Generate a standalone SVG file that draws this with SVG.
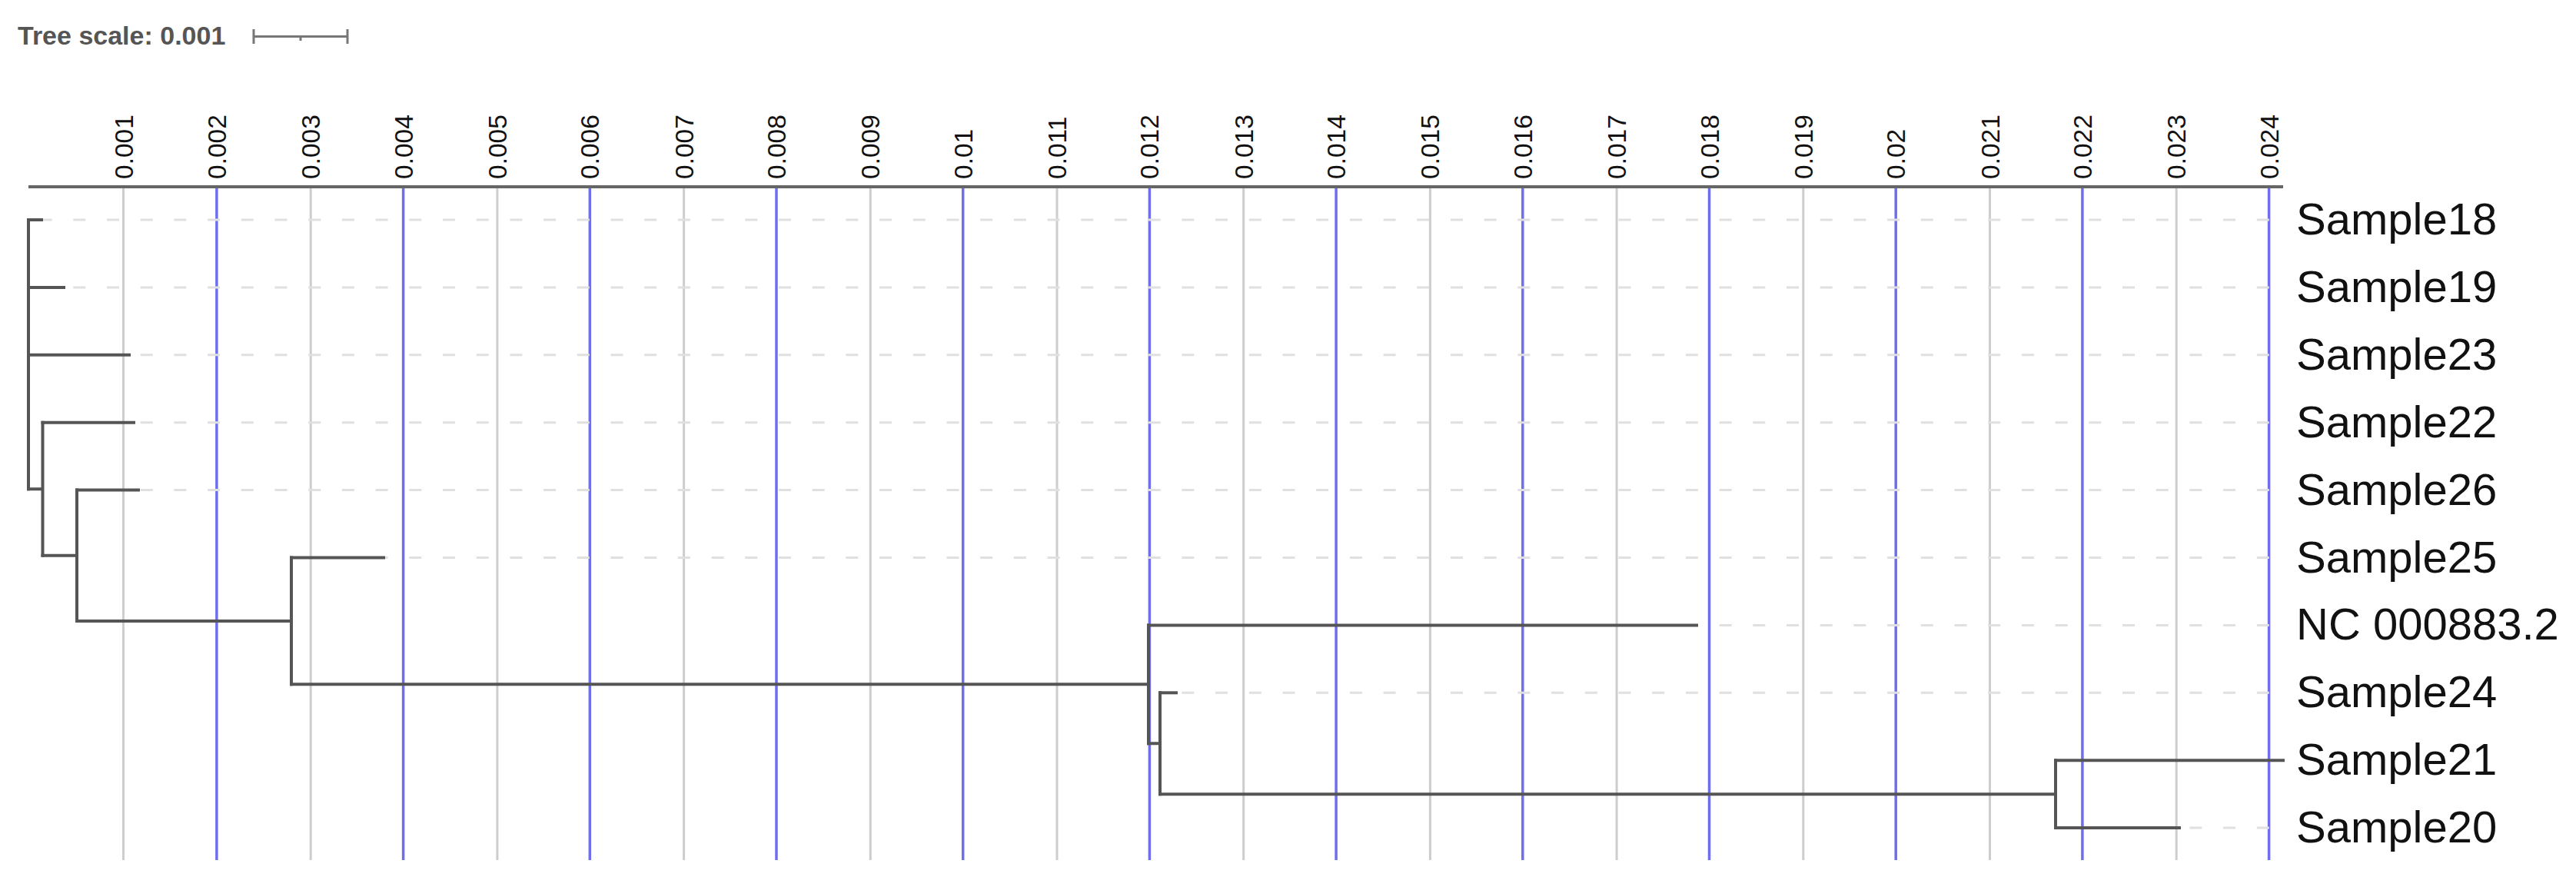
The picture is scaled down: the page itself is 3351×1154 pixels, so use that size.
<svg xmlns="http://www.w3.org/2000/svg" width="3351" height="1154" viewBox="0 0 3351 1154">
<style>
.bg{fill:#ffffff}
.g-odd{stroke:#cdcdcd;stroke-width:3;fill:none}
.g-even{stroke:#6f6fee;stroke-width:3.5;fill:none}
.axis{stroke:#666666;stroke-width:4;fill:none}
.tick{font-family:"Liberation Sans",Arial,sans-serif;font-size:33.5px;fill:#111111}
.guide{stroke:#e0e0e0;stroke-width:3;stroke-dasharray:16 27.7;fill:none}
.br{stroke:#555555;stroke-width:4;fill:none;stroke-linecap:square}
.lbl{font-family:"Liberation Sans",Arial,sans-serif;font-size:58px;fill:#111111}
.ts{font-family:"Liberation Sans",Arial,sans-serif;font-size:34px;font-weight:bold;fill:#555555}
.sb{stroke:#777777;stroke-width:3;fill:none}
</style>
<rect class="bg" x="0" y="0" width="3351" height="1154"/>

<g id="tree-scale">
<text class="ts" x="23" y="58">Tree scale: 0.001</text>
<path class="sb" d="M330,47.5 H452 M330,38 V57 M452,38 V57 M391,47 V53"/>
</g>

<g id="grid">
<path class="g-odd" d="M160.5,243 V1119 M404.2,243 V1119 M646.9,243 V1119 M889.6,243 V1119 M1132.3,243 V1119 M1375,243 V1119 M1617.7,243 V1119 M1860.4,243 V1119 M2103.1,243 V1119 M2345.8,243 V1119 M2588.5,243 V1119 M2831.2,243 V1119"/>
<path class="g-even" d="M281.9,243 V1119 M524.6,243 V1119 M767.3,243 V1119 M1010,243 V1119 M1252.7,243 V1119 M1495.4,243 V1119 M1738.1,243 V1119 M1980.8,243 V1119 M2223.5,243 V1119 M2466.2,243 V1119 M2708.9,243 V1119 M2951.6,243 V1119"/>
</g>

<g id="axis">
<line class="axis" x1="37" y1="243" x2="2970" y2="243"/>
<text class="tick" transform="translate(172.5,233) rotate(-90)">0.001</text>
<text class="tick" transform="translate(293.9,233) rotate(-90)">0.002</text>
<text class="tick" transform="translate(416.2,233) rotate(-90)">0.003</text>
<text class="tick" transform="translate(536.6,233) rotate(-90)">0.004</text>
<text class="tick" transform="translate(658.9,233) rotate(-90)">0.005</text>
<text class="tick" transform="translate(779.3,233) rotate(-90)">0.006</text>
<text class="tick" transform="translate(901.6,233) rotate(-90)">0.007</text>
<text class="tick" transform="translate(1022,233) rotate(-90)">0.008</text>
<text class="tick" transform="translate(1144.3,233) rotate(-90)">0.009</text>
<text class="tick" transform="translate(1264.7,233) rotate(-90)">0.01</text>
<text class="tick" transform="translate(1387,233) rotate(-90)">0.011</text>
<text class="tick" transform="translate(1507.4,233) rotate(-90)">0.012</text>
<text class="tick" transform="translate(1629.7,233) rotate(-90)">0.013</text>
<text class="tick" transform="translate(1750.1,233) rotate(-90)">0.014</text>
<text class="tick" transform="translate(1872.4,233) rotate(-90)">0.015</text>
<text class="tick" transform="translate(1992.8,233) rotate(-90)">0.016</text>
<text class="tick" transform="translate(2115.1,233) rotate(-90)">0.017</text>
<text class="tick" transform="translate(2235.5,233) rotate(-90)">0.018</text>
<text class="tick" transform="translate(2357.8,233) rotate(-90)">0.019</text>
<text class="tick" transform="translate(2478.2,233) rotate(-90)">0.02</text>
<text class="tick" transform="translate(2600.5,233) rotate(-90)">0.021</text>
<text class="tick" transform="translate(2720.9,233) rotate(-90)">0.022</text>
<text class="tick" transform="translate(2843.2,233) rotate(-90)">0.023</text>
<text class="tick" transform="translate(2963.6,233) rotate(-90)">0.024</text>
</g>

<g id="guides">
<line class="guide" x1="54" y1="286" x2="2970" y2="286" stroke-dashoffset="2.4"/>
<line class="guide" x1="83" y1="373.9" x2="2970" y2="373.9" stroke-dashoffset="31.4"/>
<line class="guide" x1="168" y1="461.8" x2="2970" y2="461.8" stroke-dashoffset="29"/>
<line class="guide" x1="174" y1="549.7" x2="2970" y2="549.7" stroke-dashoffset="35"/>
<line class="guide" x1="180" y1="637.6" x2="2970" y2="637.6" stroke-dashoffset="41"/>
<line class="guide" x1="499" y1="725.5" x2="2970" y2="725.5" stroke-dashoffset="10.4"/>
<line class="guide" x1="2207" y1="813.4" x2="2970" y2="813.4" stroke-dashoffset="14.1"/>
<line class="guide" x1="1530" y1="901.3" x2="2970" y2="901.3" stroke-dashoffset="36.3"/>
<line class="guide" x1="2835" y1="1077.1" x2="2970" y2="1077.1" stroke-dashoffset="30.3"/>
</g>

<g id="connectors">
<path id="root" class="br" d="M37,286 V636.2"/>
<path id="e-root-Sample18" class="br" d="M37,286 H54"/>
<path id="e-root-Sample19" class="br" d="M37,373.9 H83"/>
<path id="e-root-Sample23" class="br" d="M37,461.8 H168"/>
<path id="e-root-F" class="br" d="M37,636.2 H55.5 M55.5,549.7 V722.75"/>
<path id="e-F-Sample22" class="br" d="M55.5,549.7 H174"/>
<path id="e-F-E" class="br" d="M55.5,722.75 H100 M100,637.6 V807.9"/>
<path id="e-E-Sample26" class="br" d="M100,637.6 H180"/>
<path id="e-E-D" class="br" d="M100,807.9 H379 M379,725.5 V890.3"/>
<path id="e-D-Sample25" class="br" d="M379,725.5 H499"/>
<path id="e-D-A" class="br" d="M379,890.3 H1494 M1494,813.4 V967.2"/>
<path id="e-A-NC" class="br" d="M1494,813.4 H2207"/>
<path id="e-A-B" class="br" d="M1494,967.2 H1509 M1509,901.3 V1033.15"/>
<path id="e-B-Sample24" class="br" d="M1509,901.3 H1530"/>
<path id="e-B-C" class="br" d="M1509,1033.15 H2674 M2674,989.2 V1077.1"/>
<path id="e-C-Sample21" class="br" d="M2674,989.2 H2970"/>
<path id="e-C-Sample20" class="br" d="M2674,1077.1 H2835"/>
</g>

<g id="node-Sample18"><text class="lbl" x="2987" y="305">Sample18</text></g>
<g id="node-Sample19"><text class="lbl" x="2987" y="392.9">Sample19</text></g>
<g id="node-Sample23"><text class="lbl" x="2987" y="480.8">Sample23</text></g>
<g id="node-Sample22"><text class="lbl" x="2987" y="568.7">Sample22</text></g>
<g id="node-Sample26"><text class="lbl" x="2987" y="656.6">Sample26</text></g>
<g id="node-Sample25"><text class="lbl" x="2987" y="744.5">Sample25</text></g>
<g id="node-NC_000883.2"><text class="lbl" x="2987" y="832.4">NC 000883.2</text></g>
<g id="node-Sample24"><text class="lbl" x="2987" y="920.3">Sample24</text></g>
<g id="node-Sample21"><text class="lbl" x="2987" y="1008.2">Sample21</text></g>
<g id="node-Sample20"><text class="lbl" x="2987" y="1096.1">Sample20</text></g>
</svg>
